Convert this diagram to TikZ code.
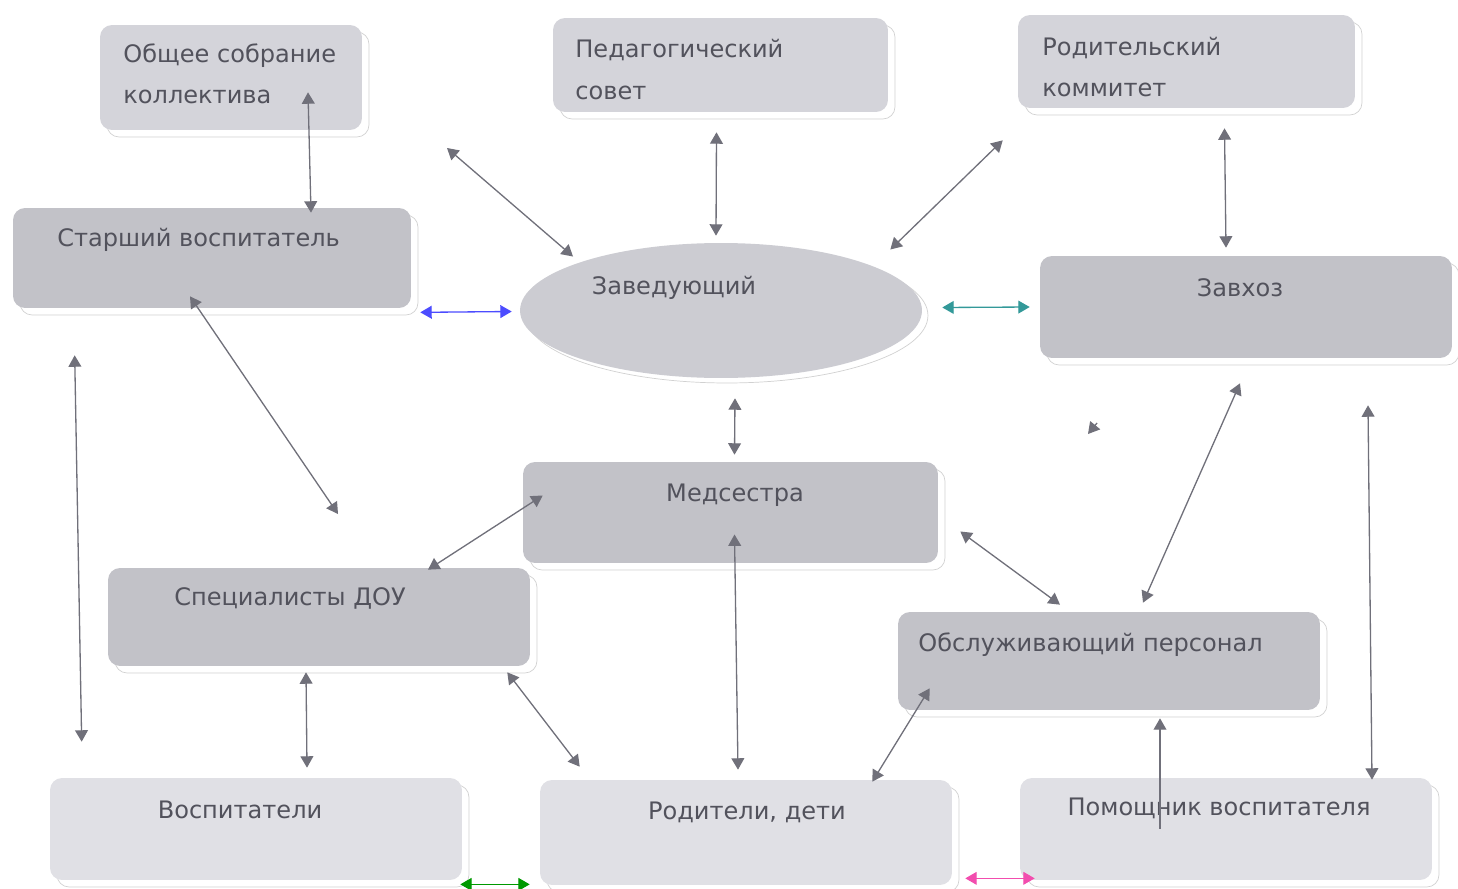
\documentclass[tikz,border=0pt]{standalone}
\usepackage{fontspec}
\setmainfont{DejaVu Sans}
\usepackage{tikz}
\usetikzlibrary{arrows,shapes.geometric,shadows}
\definecolor{boxgray}{RGB}{194,194,200}
\definecolor{toptone}{RGB}{212,212,218}
\definecolor{lowtone}{RGB}{224,224,229}
\definecolor{ovalgray}{RGB}{204,204,210}
\definecolor{txt}{RGB}{82,82,92}
\definecolor{linkgray}{RGB}{112,112,122}
\tikzstyle{every box} = []
\tikzstyle{box} = [rectangle, rounded corners=0.24cm, inner sep=0pt, fill=boxgray,
  drop shadow={fill=white, draw=black!18, shadow xshift=0.14cm, shadow yshift=-0.14cm, opacity=1},
  every box]
\tikzstyle{lbl} = [text=txt, inner sep=0pt, font=\fontsize{13.7}{16}\selectfont]
\tikzstyle{link} = [>=triangle 60, <->, draw=linkgray, line width=0.75pt]

\begin{document}
\begin{tikzpicture}[x=0.02cm, y=-0.02cm]
  \useasboundingbox (0,0) rectangle (1458,889);
  % upper row
  \node[box, fill=toptone, minimum width=5.24cm, minimum height=2.1cm] (obshchee) at (231,77.5) {};
  \node[box, fill=toptone, minimum width=6.7cm, minimum height=1.88cm] (pedsovet) at (720.5,65) {};
  \node[box, fill=toptone, minimum width=6.74cm, minimum height=1.86cm] (rodkom) at (1186.5,61.5) {};
  \node[lbl, anchor=west] (obshcheeA) at (123,56) {Общее собрание};
  \node[lbl, anchor=west] (obshcheeB) at (123,97) {коллектива};
  \node[lbl, anchor=west] (pedsovetA) at (575,50) {Педагогический};
  \node[lbl, anchor=west] (pedsovetB) at (575,93) {совет};
  \node[lbl, anchor=west] (rodkomA) at (1042,48) {Родительский};
  \node[lbl, anchor=west] (rodkomB) at (1042,90) {коммитет};
  % middle
  \node[box, minimum width=7.96cm, minimum height=2cm] (starshiy) at (212,258) {};
  \node[ellipse, inner sep=0pt, fill=ovalgray, minimum width=8.04cm, minimum height=2.7cm,
    drop shadow={fill=white, draw=black!18, shadow xshift=0.12cm, shadow yshift=-0.1cm, opacity=1}] (zaved) at (721,310.5) {};
  \node[box, minimum width=8.24cm, minimum height=2.04cm] (zavhoz) at (1246,307) {};
  \node[lbl, anchor=west] (starshiyT) at (57,240) {Старший воспитатель};
  \node[lbl] (zavedT) at (674,288) {Заведующий};
  \node[lbl] (zavhozT) at (1240,288) {Завхоз};
  \node[box, minimum width=8.3cm, minimum height=2.02cm] (medsestra) at (730.5,512.5) {};
  \node[box, minimum width=8.44cm, minimum height=1.96cm] (spec) at (319,617) {};
  \node[box, minimum width=8.44cm, minimum height=1.96cm] (obsl) at (1109,661) {};
  \node[lbl] (medsestraT) at (735,495) {Медсестра};
  \node[lbl] (specT) at (290,598) {Специалисты ДОУ};
  \node[lbl, anchor=west] (obslT) at (918,645) {Обслуживающий персонал};
  % lower row
  \node[box, fill=lowtone, minimum width=8.24cm, minimum height=2.04cm] (vosp) at (256,829) {};
  \node[box, fill=lowtone, minimum width=8.24cm, minimum height=2.1cm] (roditeli) at (746,832.5) {};
  \node[box, fill=lowtone, minimum width=8.24cm, minimum height=2.04cm] (pomoshch) at (1226,829) {};
  \node[lbl] (vospT) at (240,810) {Воспитатели};
  \node[lbl] (roditeliT) at (747,812) {Родители, дети};
  \node[lbl] (pomoshchT) at (1219,808) {Помощник воспитателя};

  \coordinate (freeA) at (447,148);
  \coordinate (freeB) at (338,514);
  \coordinate (strayA) at (1097,423);
  \coordinate (strayB) at (1088,434);

  \draw[link] ([shift={(77,-38)}]obshchee.south) -- ([shift={(99,5)}]starshiy.north);
  \draw[link] (freeA) -- ([shift={(-148,-54)}]zaved.center);
  \draw[link] ([shift={(-4,20)}]pedsovet.south) -- ([shift={(-5,-7)}]zaved.north);
  \draw[link] ([shift={(-15,32)}]rodkom.south west) -- ([shift={(27,-13)}]zaved.north east);
  \draw[link] ([shift={(38,20)}]rodkom.south) -- ([shift={(-20,-8)}]zavhoz.north);
  \draw[link, draw=blue!70] ([shift={(9,4)}]starshiy.south east) -- ([shift={(-8,1)}]zaved.west);
  \draw[link, draw=teal!80] ([shift={(20,-3)}]zaved.east) -- ([shift={(-10,0)}]zavhoz.west);
  \draw[link] ([shift={(-22,-12)}]starshiy.south) -- (freeB);
  \draw[link] ([shift={(14,20)}]zaved.south) -- ([shift={(4,-7)}]medsestra.north);
  \draw[link] ([shift={(62,47)}]starshiy.south west) -- ([shift={(32,-36)}]vosp.north west);
  \draw[link] ([shift={(20,-17)}]medsestra.west) -- ([shift={(109,2)}]spec.north);
  \draw[link] ([shift={(4,22)}]medsestra.center) -- ([shift={(-8,-10)}]roditeli.north);
  \draw[link] ([shift={(22,19)}]medsestra.east) -- ([shift={(-49,-7)}]obsl.north);
  \draw[link] ([shift={(-6,25)}]zavhoz.south) -- ([shift={(34,-9)}]obsl.north);
  \draw[link] ([shift={(122,47)}]zavhoz.south) -- ([shift={(146,2)}]pomoshch.north);
  \draw[link, ->] (strayA) -- (strayB);
  \draw[link] ([shift={(-13,6)}]spec.south) -- ([shift={(51,-10)}]vosp.north);
  \draw[link] ([shift={(-23,6)}]spec.south east) -- ([shift={(40,-13)}]roditeli.north west);
  \draw[link] ([shift={(32,-22)}]obsl.south west) -- ([shift={(-80,2)}]roditeli.north east);
  \draw[link, <-] ([shift={(51,8)}]obsl.south) -- ([shift={(-66,0)}]pomoshch.center);
  \draw[link, draw=green!60!black] ([shift={(-2,4)}]vosp.south east) -- ([shift={(-10,-1)}]roditeli.south west);
  \draw[link, draw=magenta!70] ([shift={(13,-7)}]roditeli.south east) -- ([shift={(15,-2)}]pomoshch.south west);
\end{tikzpicture}
\end{document}
